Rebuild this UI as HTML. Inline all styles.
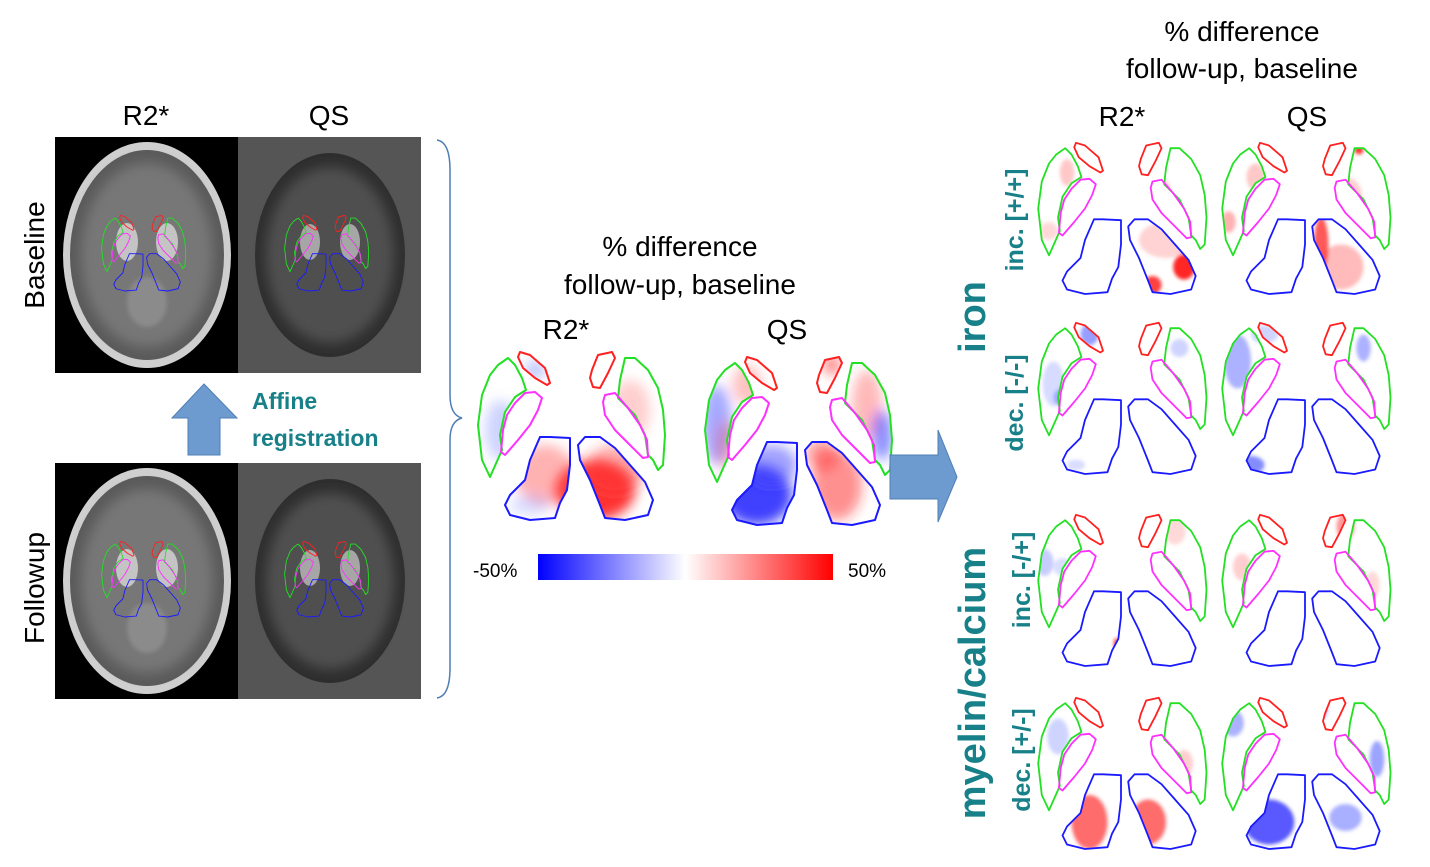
<!DOCTYPE html>
<html><head><meta charset="utf-8"><style>
html,body{margin:0;padding:0;background:#fff;}
svg{display:block;font-family:"Liberation Sans",Arial,sans-serif;}
</style></head><body>
<svg id="s" width="1430" height="867" viewBox="0 0 1430 867" xmlns="http://www.w3.org/2000/svg">
<defs>
<filter id="bl" x="-50%" y="-50%" width="200%" height="200%"><feGaussianBlur stdDeviation="6"/></filter>
<filter id="bl2" x="-50%" y="-50%" width="200%" height="200%"><feGaussianBlur stdDeviation="2"/></filter>
<linearGradient id="cb" x1="0" x2="1" y1="0" y2="0">
<stop offset="0" stop-color="#0000ff"/><stop offset="0.5" stop-color="#ffffff"/><stop offset="1" stop-color="#ff0000"/></linearGradient>
<clipPath id="roi">
<path d="M50,12 L60,15 L75,28 L80,43 L77,45 L65,38 L53,28 L48,17Z"/>
<path d="M122,30 L128,15 L142,12 L145,18 L138,33 L130,48 L123,47 L120,38Z"/>
<path d="M38,18 L45,25 L52,38 L56,50 L45,57 L35,72 L30,95 L32,110 L20,137 L12,120 L8,85 L12,55 L20,35 L28,25Z"/>
<path d="M155,18 L165,18 L178,30 L188,48 L193,70 L195,95 L193,125 L188,130 L183,120 L178,115 L175,95 L165,75 L148,58 L150,40Z"/>
<path d="M70,97 L80,97 L100,98 L100,125 L97,150 L90,163 L85,178 L60,180 L40,175 L35,165 L40,155 L55,140 L60,120Z"/>
<path d="M115,97 L130,97 L145,108 L160,125 L175,142 L183,160 L178,175 L155,180 L135,178 L130,165 L120,140 L110,120 L108,105Z"/>
</clipPath>
<g id="outl" fill="none" stroke-width="2" stroke-linejoin="round">
<path stroke="#ff2020" d="M50,12 L60,15 L75,28 L80,43 L77,45 L65,38 L53,28 L48,17Z"/>
<path stroke="#ff2020" d="M122,30 L128,15 L142,12 L145,18 L138,33 L130,48 L123,47 L120,38Z"/>
<path stroke="#22e022" d="M38,18 L45,25 L52,38 L56,50 L45,57 L35,72 L30,95 L32,110 L20,137 L12,120 L8,85 L12,55 L20,35 L28,25Z"/>
<path stroke="#ff30ff" d="M55,53 L65,52 L72,58 L68,70 L60,85 L48,100 L35,115 L31,112 L33,90 L37,75 L45,63Z"/>
<path stroke="#22e022" d="M155,18 L165,18 L178,30 L188,48 L193,70 L195,95 L193,125 L188,130 L183,120 L178,115 L175,95 L165,75 L148,58 L150,40Z"/>
<path stroke="#ff30ff" d="M135,55 L145,53 L158,68 L170,85 L177,100 L178,117 L173,118 L160,105 L145,90 L135,75 L133,62Z"/>
<path stroke="#1a1aff" d="M70,97 L80,97 L100,98 L100,125 L97,150 L90,163 L85,178 L60,180 L40,175 L35,165 L40,155 L55,140 L60,120Z"/>
<path stroke="#1a1aff" d="M115,97 L130,97 L145,108 L160,125 L175,142 L183,160 L178,175 L155,180 L135,178 L130,165 L120,140 L110,120 L108,105Z"/>
</g>
<g id="brainR">
<rect width="183" height="236" fill="#000"/>
<ellipse cx="92" cy="118" rx="84" ry="113" fill="#cfcfcf"/>
<ellipse cx="92" cy="118" rx="77" ry="105" fill="#5a5a5a"/>
<ellipse cx="92" cy="118" rx="66" ry="92" fill="#777" filter="url(#bl)"/>
<ellipse cx="72" cy="105" rx="11" ry="19" fill="#ddd" opacity=".75"/>
<ellipse cx="112" cy="105" rx="11" ry="19" fill="#ddd" opacity=".75"/>
<ellipse cx="92" cy="165" rx="20" ry="25" fill="#aaa" opacity=".4" filter="url(#bl2)"/>
</g>
<g id="brainQ">
<rect width="183" height="236" fill="#555"/>
<ellipse cx="92" cy="118" rx="75" ry="102" fill="#2e2e2e"/>
<ellipse cx="92" cy="118" rx="64" ry="88" fill="#505050" filter="url(#bl)"/>
<ellipse cx="72" cy="105" rx="10" ry="18" fill="#ccc" opacity=".7"/>
<ellipse cx="112" cy="105" rx="10" ry="18" fill="#ccc" opacity=".7"/>
</g>
</defs>

<text x="146" y="125" font-size="28" text-anchor="middle">R2*</text>
<text x="329" y="125" font-size="28" text-anchor="middle">QS</text>
<use href="#brainR" x="55" y="137"/>
<use href="#brainQ" x="238" y="137"/>
<use href="#brainR" x="55" y="463"/>
<use href="#brainQ" x="238" y="463"/>
<g transform="translate(98,210) scale(0.45)"><use href="#outl"/></g>
<g transform="translate(281,210) scale(0.45)"><use href="#outl"/></g>
<g transform="translate(98,536) scale(0.45)"><use href="#outl"/></g>
<g transform="translate(281,536) scale(0.45)"><use href="#outl"/></g>
<text transform="translate(44,255) rotate(-90)" font-size="28" text-anchor="middle">Baseline</text>
<text transform="translate(44,588) rotate(-90)" font-size="28" text-anchor="middle">Followup</text>
<path d="M172,418 L204,384 L237,418 L220,418 L220,455 L188,455 L188,418Z" fill="#6d9bd0" stroke="#4f7fb5" stroke-width="1"/>
<text x="252" y="409" font-size="23" font-weight="bold" fill="#178088">Affine</text>
<text x="252" y="446" font-size="23" font-weight="bold" fill="#178088">registration</text>
<path d="M437,140 Q450,142 450,170 L450,395 Q450,415 462,418 Q450,421 450,440 L450,668 Q450,696 437,698" fill="none" stroke="#4f7fb5" stroke-width="1.5"/>

<text x="680" y="256" font-size="28" text-anchor="middle">% difference</text>
<text x="680" y="294" font-size="28" text-anchor="middle">follow-up, baseline</text>
<text x="566" y="339" font-size="28" text-anchor="middle">R2*</text>
<text x="787" y="339" font-size="28" text-anchor="middle">QS</text>
<g id="panels"></g>
<rect x="538" y="554" width="295" height="26" fill="url(#cb)"/>
<text x="473" y="577" font-size="19">-50%</text>
<text x="848" y="577" font-size="19">50%</text>
<path d="M890,455 L938,455 L938,430 L957,477 L938,522 L938,499 L890,499Z" fill="#6d9bd0" stroke="#4f7fb5" stroke-width="1"/>

<text x="1242" y="41" font-size="28" text-anchor="middle">% difference</text>
<text x="1242" y="78" font-size="28" text-anchor="middle">follow-up, baseline</text>
<text x="1122" y="126" font-size="28" text-anchor="middle">R2*</text>
<text x="1307" y="126" font-size="28" text-anchor="middle">QS</text>
<g fill="#178088" font-weight="bold">
<text transform="translate(985,317) rotate(-90)" font-size="38" text-anchor="middle">iron</text>
<text transform="translate(985,683) rotate(-90)" font-size="38" text-anchor="middle">myelin/calcium</text>
<text transform="translate(1023,220) rotate(-90)" font-size="25" text-anchor="middle">inc. [+/+]</text>
<text transform="translate(1023,403) rotate(-90)" font-size="25" text-anchor="middle">dec. [-/-]</text>
<text transform="translate(1030,580) rotate(-90)" font-size="25" text-anchor="middle">inc. [-/+]</text>
<text transform="translate(1030,760) rotate(-90)" font-size="25" text-anchor="middle">dec. [+/-]</text>
</g>
</svg>
<script>
var P=[
 [470,340,1,[[125,150,40,30,"#ff0000",.8],[75,135,30,30,"#ff4040",.4],[145,130,30,25,"#ff3030",.4],[30,90,15,30,"#6070ff",.3],[55,80,15,20,"#7080ff",.35],[65,30,10,10,"#7080ff",.45],[160,70,20,30,"#ff6060",.3],[60,165,20,10,"#8090ff",.3]],"bl"],
 [697,345,1,[[60,150,35,30,"#0000ff",.75],[75,120,25,20,"#4040ff",.5],[140,140,25,35,"#ff2020",.5],[125,110,15,15,"#ff2020",.5],[20,80,15,40,"#3040ff",.45],[30,100,12,25,"#ff4040",.3],[50,40,15,20,"#ff5050",.35],[170,60,15,35,"#ff3030",.35],[185,90,10,25,"#2030ff",.55],[135,20,8,10,"#ff0000",.5]],"bl"],
 [1031,132,0.9,[[170,150,12,14,"#ff0000",.85],[135,170,10,10,"#ff0000",.75],[150,120,30,20,"#ff5050",.25],[40,45,8,15,"#ff6060",.35],[140,65,15,15,"#ff6060",.35],[20,110,10,10,"#ff8080",.3]],"bl2"],
 [1215,132,0.9,[[118,125,8,30,"#ff0000",.65],[140,150,25,25,"#ff4040",.35],[145,70,18,20,"#ff6060",.3],[15,100,8,12,"#ff4040",.4],[45,50,10,15,"#ff6060",.35],[160,20,5,5,"#ff0000",.8]],"bl2"],
 [1031,312,0.9,[[65,25,10,12,"#4050ff",.55],[25,80,12,25,"#6070ff",.25],[35,95,10,10,"#5060ff",.4],[165,40,10,10,"#6070ff",.3],[50,170,10,6,"#8090ff",.3]],"bl2"],
 [1215,312,0.9,[[25,55,15,30,"#3040ff",.4],[55,25,15,10,"#6070ff",.3],[40,170,15,10,"#2030ff",.55],[165,40,8,15,"#3040ff",.4]],"bl2"],
 [1031,504,0.9,[[15,65,10,15,"#6070ff",.35],[35,70,10,10,"#8090ff",.3],[160,30,12,15,"#ff8080",.3],[95,155,3,6,"#ff0000",.8]],"bl2"],
 [1215,504,0.9,[[145,25,10,15,"#ff3030",.5],[30,70,10,15,"#ff6060",.3],[175,90,8,15,"#ff8080",.3]],"bl2"],
 [1031,687,0.9,[[65,150,20,30,"#ff2020",.65],[130,150,20,25,"#ff2020",.65],[30,55,12,20,"#6070ff",.3],[170,85,10,15,"#ff6060",.3]],"bl2"],
 [1215,687,0.9,[[60,150,28,25,"#0000ff",.65],[145,145,18,15,"#4050ff",.45],[20,40,12,15,"#3040ff",.4],[115,25,10,12,"#3040ff",.45],[180,80,8,20,"#2030ff",.45]],"bl2"]
];
var g=document.getElementById("panels"),h="";
P.forEach(function(p){
 h+='<g transform="translate('+p[0]+','+p[1]+') scale('+p[2]+')"><g clip-path="url(#roi)"><g filter="url(#'+p[4]+')">';
 p[3].forEach(function(b){h+='<ellipse cx="'+b[0]+'" cy="'+b[1]+'" rx="'+b[2]+'" ry="'+b[3]+'" fill="'+b[4]+'" opacity="'+b[5]+'"/>';});
 h+='</g></g><use href="#outl"/></g>';
});
g.innerHTML=h;
</script>
</body></html>
